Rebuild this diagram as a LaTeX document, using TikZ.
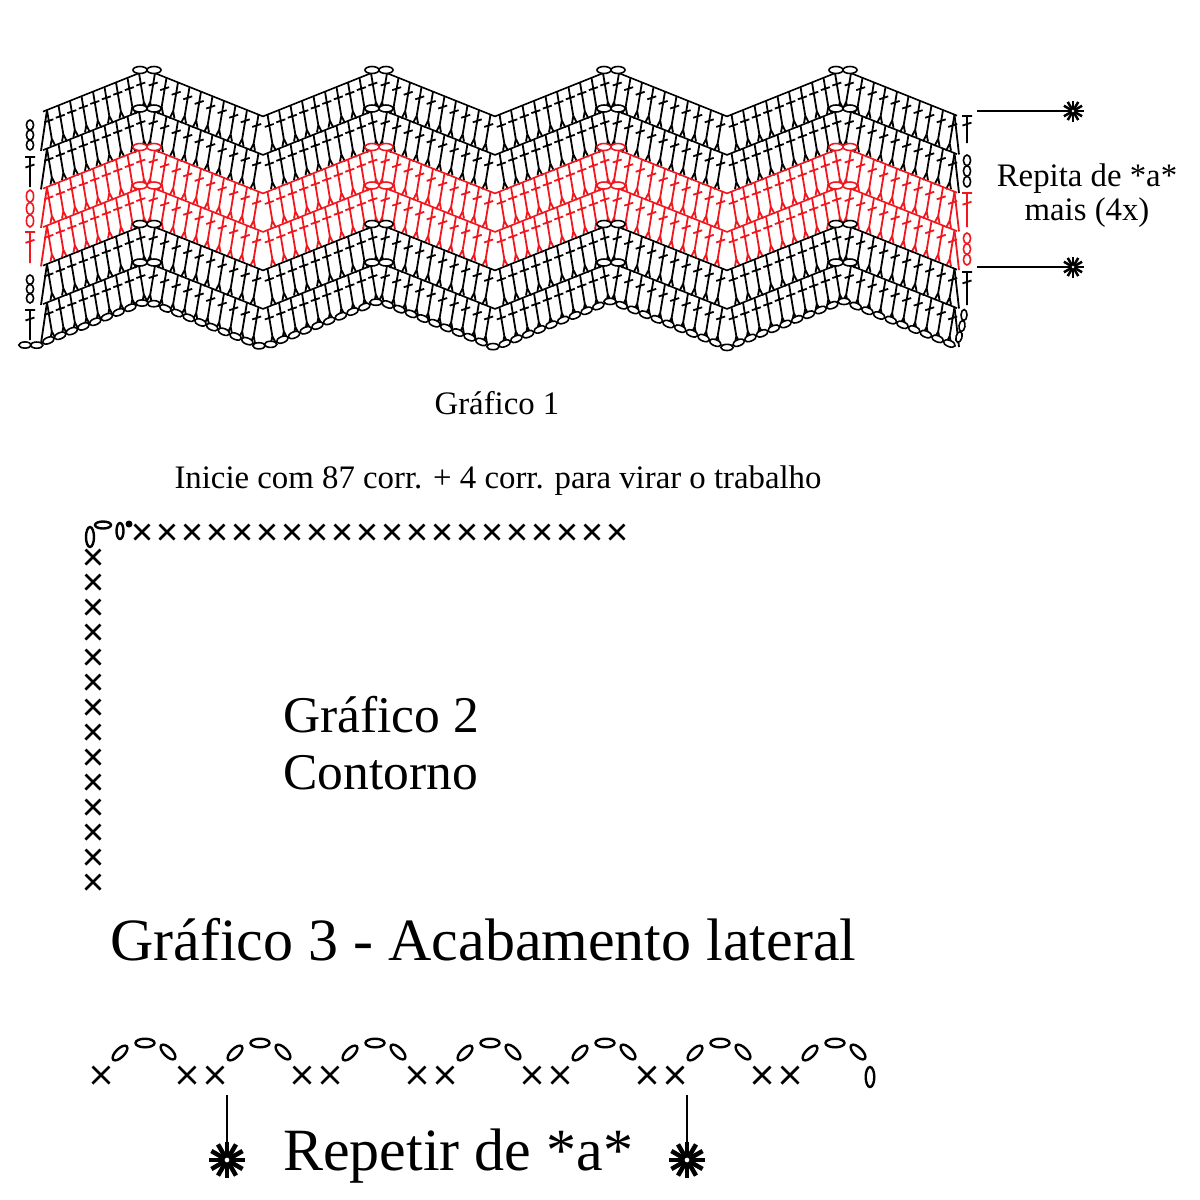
\documentclass[tikz,border=0pt]{standalone}
\usepackage{fontspec}
\setmainfont{Liberation Serif}
\definecolor{chartred}{RGB}{240,24,30}

\newcommand\Stitch[4]{% xb, xt, k (top line), colour
  \pgfmathsetmacro\yb{70+38.5*(#3+1)+0.4*abs(mod(#1+2289,232)-116)}%
  \pgfmathsetmacro\yt{70+38.5*(#3)+0.4*abs(mod(#2+2289,232)-116)}%
  \pgfmathsetmacro\xm{#2+0.8*(#1-(#2))}%
  \pgfmathsetmacro\ym{\yt+0.8*(\yb-\yt)}%
  \pgfmathsetmacro\xs{#2+0.3*(#1-(#2))}%
  \pgfmathsetmacro\ys{\yt+0.3*(\yb-\yt)}%
  \draw[stitchline,color=#4] (#2,\yt) -- (\xm,\ym) -- (#1-2.5,\yb)
       (\xm,\ym) -- (#1+2.5,\yb) (\xs-4.5,\ys+1.5) -- (\xs+4.5,\ys-1.5);%
}
\newcommand\TMark[4]{% x, ytop, ybot, colour
  \draw[stitchline,color=#4] (#1,#2) -- (#1,#3) (#1-5,#2) -- (#1+5,#2)
    (#1-4.5,{#2+0.3*(#3-#2)+1.5}) -- (#1+4.5,{#2+0.3*(#3-#2)-1.5});%
}
\newcommand\EightMark[4]{% x, ytop, ybot, colour
  \foreach \q in {1,3,5}{\draw[chainov,draw=#4] (#1,{#2+\q*(#3-#2)/6}) ellipse [x radius=3.6, y radius={(#3-#2)/6}];}%
}
\newcommand\XM[3]{\draw[xmark] (#1-#3,#2-#3) -- (#1+#3,#2+#3) (#1-#3,#2+#3) -- (#1+#3,#2-#3);}
\newcommand\CStar[5]{% name, x, y, R, line width
  \coordinate (#1) at (#2,#3);
  \foreach \a in {0,30,...,330}{\draw[line width=#5] (#1) -- ++(\a:#4);}
  \fill[white] (#1) circle[radius=#4*0.13pt];
}

\begin{document}
\begin{tikzpicture}[x=1pt,y=-1pt,
  rowline/.style={line width=1.6pt},
  stitchline/.style={line width=1.8pt},
  chainov/.style={line width=1.6pt, fill=white},
  bigov/.style={line width=2.4pt, fill=white},
  xmark/.style={line width=2.8pt},
  connline/.style={line width=1.5pt},
  txt/.style={inner sep=0pt, font=\fontsize{32.8}{38}\selectfont},
  bigtxt/.style={inner sep=0pt, font=\fontsize{51.5}{58}\selectfont},
  hugetxt/.style={inner sep=0pt, font=\fontsize{60}{70}\selectfont},
]
\fill[white] (0,0) rectangle (1200,1200);
\useasboundingbox (0,0) rectangle (1200,1200);

% ---------------- Grafico 1 : stitches ----------------
\foreach \k/\col in {0/black,1/black,2/chartred,3/chartred,4/black,5/black}{
  \foreach \p in {147,379,611,843}{
    \foreach \d in {-1,1}{
      \foreach \j in {0,...,9}{
        \pgfmathsetmacro\xb{\p+(\d)*(2+11.5*\j)}
        \pgfmathsetmacro\xt{\p+(\d)*(8+11.5*\j)}
        \pgfmathtruncatemacro\ok{(\xt>42)*(\xt<958)}
        \ifnum\ok=1 \Stitch{\xb}{\xt}{\k}{\col}\fi
      }
    }
  }
  % edge decreases
  \pgfmathsetmacro\ylt{70+38.5*\k+0.4*100}
  \pgfmathsetmacro\ylb{70+38.5*(\k+1)+0.4*106}
  \draw[stitchline,color=\col] (47,\ylt) -- (41,\ylb);
  \pgfmathsetmacro\yrt{70+38.5*\k+0.4*111.5}
  \pgfmathsetmacro\yrb{70+38.5*(\k+1)+0.4*115}
  \draw[stitchline,color=\col] (954.5,\yrt) -- (959,\yrb);
}
% row lines and peak chains
\foreach \k/\col in {0/black,1/black,2/chartred,3/chartred,4/black,5/black}{
  \pgfmathsetmacro\P{70+38.5*\k}
  \draw[rowline,color=\col] (43,\P+41.6) -- (147,\P) -- (263,\P+46.4) -- (379,\P)
     -- (495,\P+46.4) -- (611,\P) -- (727,\P+46.4) -- (843,\P) -- (957,\P+45.6);
  \foreach \p in {147,379,611,843}{
    \draw[chainov,draw=\col] (\p-7,\P) ellipse [x radius=7, y radius=3.5];
    \draw[chainov,draw=\col] (\p+7,\P) ellipse [x radius=7, y radius=3.5];
  }
}
% foundation chain
\foreach \i in {0,...,79}{
  \pgfmathsetmacro\cx{25+11.7*\i}
  \pgfmathsetmacro\rr{mod(\cx+2289,232)}
  \pgfmathsetmacro\cy{301+0.4*abs(\rr-116)}
  \pgfmathsetmacro\ang{21.8*sign(116-\rr)*(abs(\rr-116)>8)*(\rr>8)*(\rr<224)}
  \draw[chainov,rotate around={\ang:(\cx,\cy)}] (\cx,\cy) ellipse [x radius=6.2, y radius=3.1];
}
% right turning chain of first row
\draw[chainov,rotate around={75:(959,337)}] (959,337) ellipse [x radius=5.5, y radius=3];
\draw[chainov,rotate around={82:(962,326)}] (962,326) ellipse [x radius=5.5, y radius=3];
\draw[chainov,rotate around={88:(964,315)}] (964,315) ellipse [x radius=5.5, y radius=3];

% edge markers, left
\EightMark{30}{120}{150}{black}
\TMark{30}{157}{187}{black}
\EightMark{30}{190}{227}{chartred}
\TMark{30}{232}{263}{chartred}
\EightMark{30}{275}{303}{black}
\TMark{30}{310}{340}{black}
% edge markers, right
\TMark{967}{116}{143}{black}
\EightMark{967}{155}{187}{black}
\TMark{967}{193}{227}{chartred}
\EightMark{967}{233}{265}{chartred}
\TMark{967}{272}{305}{black}

% repeat marks
\coordinate (r1s) at (977,111);
\coordinate (r2s) at (977,267);
\CStar{r1e}{1073}{111}{10.5}{2.5pt}
\CStar{r2e}{1073}{267}{10.5}{2.5pt}
\draw[connline] (r1s) -- ([xshift=-9pt]r1e);
\draw[connline] (r2s) -- ([xshift=-9pt]r2e);
\node[txt,anchor=base] (rep1) at (1087,186) {Repita de *a*};
\node[txt,anchor=base] (rep2) at (1087,220) {mais (4x)};

\node[txt,anchor=base] (g1) at (497,414) {Gráfico 1};
\node[txt,anchor=base] (ini) at (498,488) {Inicie com 87 corr. + 4 corr. para virar o trabalho};

% ---------------- Grafico 2 ----------------
\draw[bigov] (90,537) ellipse [x radius=4, y radius=10];
\draw[bigov] (103,525) ellipse [x radius=8, y radius=3.5];
\draw[bigov] (120,531) ellipse [x radius=3.5, y radius=8];
\fill (129,524) circle[radius=3.5pt];
\foreach \i in {0,...,19}{\XM{142+25*\i}{532}{7.5}}
\foreach \i in {0,...,13}{\XM{93}{557+25*\i}{7.5}}
\node[bigtxt,anchor=base west] (g2a) at (283,732) {Gráfico 2};
\node[bigtxt,anchor=base west] (g2b) at (283,789) {Contorno};

% ---------------- Grafico 3 ----------------
\node[hugetxt,anchor=base west] (g3) at (110,960) {Gráfico 3 - Acabamento lateral};
\XM{101}{1075}{8.5}
\foreach \i in {0,...,5}{\XM{187+115*\i}{1075}{8.5}\XM{215+115*\i}{1075}{8.5}}
\foreach \i in {0,...,6}{
  \pgfmathsetmacro\ax{120+115*\i}
  \draw[bigov,rotate around={45:(\ax,1053)}] (\ax,1053) ellipse [x radius=9.5, y radius=4.3];
  \draw[bigov] (\ax+25,1043) ellipse [x radius=9.5, y radius=4.3];
  \draw[bigov,rotate around={-45:(\ax+48,1052)}] (\ax+48,1052) ellipse [x radius=9.5, y radius=4.3];
}
\draw[bigov] (870,1077) ellipse [x radius=4.3, y radius=10];
\coordinate (l1) at (227,1095);
\coordinate (l2) at (687,1095);
\CStar{s1}{227}{1160}{18}{4.5pt}
\CStar{s2}{687}{1160}{18}{4.5pt}
\draw[connline] (l1) -- ([yshift=16pt]s1);
\draw[connline] (l2) -- ([yshift=16pt]s2);
\node[hugetxt,anchor=base west] (rep3) at (283,1170) {Repetir de *a*};
\end{tikzpicture}
\end{document}
